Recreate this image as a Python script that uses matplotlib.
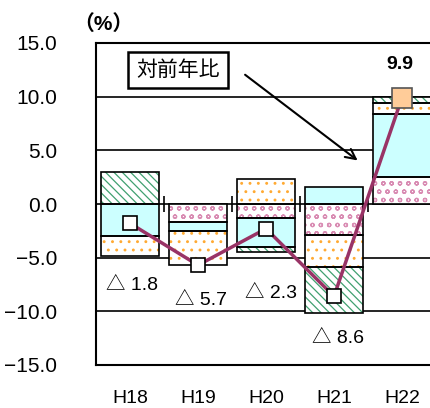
import numpy as np
import matplotlib
matplotlib.use("Agg")
import matplotlib.pyplot as plt

plt.rcParams['font.family'] = ['Liberation Sans', 'Noto Sans CJK JP', 'DejaVu Sans']
plt.rcParams['hatch.linewidth'] = 0.9

# ---- data ----
categories = ['H18', 'H19', 'H20', 'H21', 'H22']
total = [-1.8, -5.7, -2.3, -8.6, 9.9]
pink = [0.0, -1.7, -1.3, -2.9, 2.5]
cyan = [-3.0, -0.8, -2.7, 1.6, 5.9]
orange = [-1.8, -3.2, 2.3, -3.0, 1.0]
green = [3.0, 0.0, -0.5, -4.3, 0.6]
labels = ['△ 1.8', '△ 5.7', '△ 2.3', '△ 8.6']

fig = plt.figure(figsize=(4.30, 4.08), dpi=100)
ax = fig.add_axes([96 / 430, 1 - 365 / 408, 340 / 430, 322 / 408])

x = np.arange(len(categories))
width = 0.84

# stacking order from zero outward: pink, cyan, orange, green
series = [
    (pink, dict(face='white', hcol='#D98CB3', hatch='oo')),
    (cyan, dict(face='#CCFFFF', hcol=None, hatch=None)),
    (orange, dict(face='white', hcol='#FFAA33', hatch='..')),
    (green, dict(face='white', hcol='#40A070', hatch='\\\\\\\\')),
]
pos_bottom = np.zeros(len(x))
neg_bottom = np.zeros(len(x))
for vals, st in series:
    vals = np.array(vals)
    bottom = np.where(vals >= 0, pos_bottom, neg_bottom)
    mask = vals != 0
    if st['hatch']:
        ax.bar(x[mask], vals[mask], width, bottom=bottom[mask], color=st['face'],
               edgecolor=st['hcol'], hatch=st['hatch'], linewidth=0, zorder=2)
    else:
        ax.bar(x[mask], vals[mask], width, bottom=bottom[mask], color=st['face'],
               linewidth=0, zorder=2)
    ax.bar(x[mask], vals[mask], width, bottom=bottom[mask], fill=False,
           edgecolor='black', linewidth=1.2, zorder=3)
    pos_bottom += np.where(vals >= 0, vals, 0)
    neg_bottom += np.where(vals < 0, vals, 0)

# total line
ax.plot(x, total, color='#993366', lw=2.5, zorder=4)
ax.plot(x[:-1], total[:-1], 's', ms=9.5, mfc='white', mec='black', mew=1.2, zorder=5)
ax.plot(x[-1:], total[-1:], 's', ms=15, mfc='#FFCC99', mec='#555555', mew=1.2, zorder=5)

# grid and frame
ax.set_ylim(-15, 15)
ax.set_xlim(-0.5, 4.5)
ax.set_yticks(np.arange(-15, 16, 5))
ax.set_yticklabels([f'{v:.1f}'.replace('-', '\u2212') for v in np.arange(-15, 16, 5)])
for yv in np.arange(-10, 15, 5):
    ax.axhline(yv, color='black', lw=1.2, zorder=1)
ax.vlines(x[:-1] + 0.5, -0.75, 0.75, color='black', lw=1.2, zorder=3)
for side in ['left', 'top', 'bottom']:
    ax.spines[side].set_linewidth(1.5)
ax.spines['right'].set_visible(False)

ax.set_xticks(x)
ax.set_xticklabels(categories)
ax.tick_params(axis='y', length=0, pad=28, labelsize=15)
ax.tick_params(axis='x', length=0, pad=18, labelsize=14)

# value labels
lab_pos = [(0.03, -7.6), (1.05, -9.0), (2.08, -8.3), (3.06, -12.5)]
for (lx, ly), t in zip(lab_pos, labels):
    ax.text(lx, ly, t, ha='center', va='center', fontsize=14)
ax.text(3.97, 13.0, f'{total[-1]:.1f}', ha='center', va='center', fontsize=14,
        fontweight='bold')

# callout
ax.text(0.70, 12.5, '対前年比', ha='center', va='center', fontsize=15,
        bbox=dict(boxstyle='square,pad=0.4', fc='white', ec='black', lw=1.8))
ax.annotate('', xy=(3.38, 3.9), xytext=(1.66, 12.2),
            arrowprops=dict(arrowstyle='->', color='black', lw=1.5,
                            mutation_scale=18))

fig.text(73 / 430, 1 - 24 / 408, '（%）', ha='left', va='center', fontsize=15,
         fontweight='bold')

fig.savefig('out.png', dpi=100)
